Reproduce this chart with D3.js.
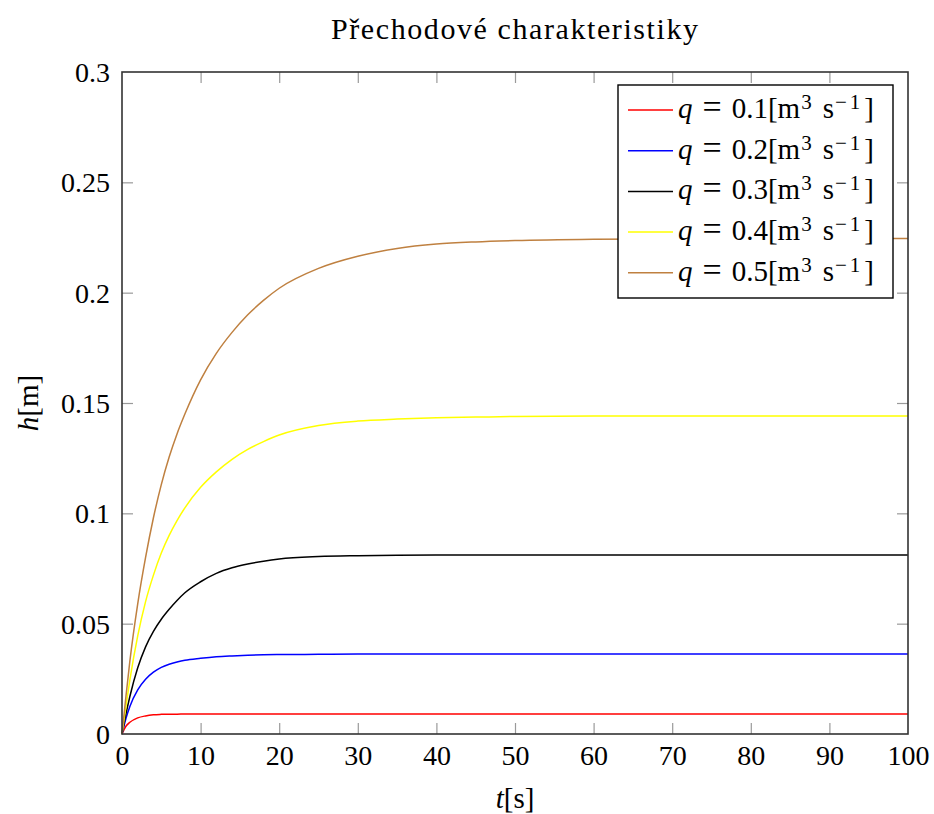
<!DOCTYPE html>
<html>
<head>
<meta charset="utf-8">
<script src="https://cdn.jsdelivr.net/npm/d3@7"></script>
<style>
  html, body { margin: 0; padding: 0; background: #fff; }
  svg { display: block; }
  text { font-family: "Liberation Serif", "DejaVu Serif", serif; fill: #000; }
</style>
</head>
<body>
<svg id="chart" width="934" height="814"></svg>
<script>
// Sample times [s]
const time = [0, 0.5, 1, 2, 3, 4, 5, 6, 7, 8, 10, 12, 14, 16, 18, 20, 25, 30, 35, 40, 45, 50, 60, 70, 80, 90, 100];

// Water level h [m] for each inflow step q
const h01 = [0, 0.0035, 0.0053, 0.0073, 0.0082, 0.0087, 0.0089, 0.0090, 0.0090, 0.0091, 0.0091, 0.0091, 0.0091, 0.0091, 0.0091, 0.0091, 0.0091, 0.0091, 0.0091, 0.0091, 0.0091, 0.0091, 0.0091, 0.0091, 0.0091, 0.0091, 0.0091];
const h02 = [0, 0.0070, 0.0125, 0.0200, 0.0248, 0.0280, 0.0302, 0.0316, 0.0326, 0.0334, 0.0343, 0.0350, 0.0354, 0.0357, 0.0359, 0.0360, 0.0361, 0.0362, 0.0362, 0.0362, 0.0362, 0.0362, 0.0362, 0.0362, 0.0362, 0.0362, 0.0362];
const h03 = [0, 0.0090, 0.0170, 0.0300, 0.0395, 0.0465, 0.0520, 0.0565, 0.0605, 0.0640, 0.0690, 0.0728, 0.0753, 0.0770, 0.0783, 0.0793, 0.0804, 0.0808, 0.0810, 0.0811, 0.0811, 0.0811, 0.0811, 0.0811, 0.0811, 0.0811, 0.0811];
const h04 = [0, 0.0125, 0.0245, 0.0445, 0.0600, 0.0720, 0.0820, 0.0900, 0.0967, 0.1025, 0.1118, 0.1188, 0.1245, 0.1290, 0.1325, 0.1355, 0.1398, 0.1418, 0.1427, 0.1433, 0.1436, 0.1439, 0.1441, 0.1441, 0.1441, 0.1441, 0.1441];
const h05 = [0, 0.0170, 0.0330, 0.0590, 0.0800, 0.0980, 0.1130, 0.1255, 0.1360, 0.1450, 0.1605, 0.1725, 0.1820, 0.1900, 0.1965, 0.2020, 0.2110, 0.2165, 0.2200, 0.2220, 0.2230, 0.2236, 0.2242, 0.2244, 0.2245, 0.2245, 0.2245];

const seriesLabels = ["0.1", "0.2", "0.3", "0.4", "0.5"];
const seriesColors = ["#ff0000", "#0000ff", "#000000", "#ffff00", "#bf8040"];
const seriesValues = [h01, h02, h03, h04, h05];

const xTicks = [0, 10, 20, 30, 40, 50, 60, 70, 80, 90, 100];
const yTicks = [0, 0.05, 0.1, 0.15, 0.2, 0.25, 0.3];
const yTickLabels = ["0", "0.05", "0.1", "0.15", "0.2", "0.25", "0.3"];

const titleText = "Přechodové charakteristiky";

// Layout
const plot = { left: 122, right: 908, top: 72, bottom: 734 };
const FONT = '"Liberation Serif", "DejaVu Serif", serif';

const svg = d3.select("#chart");

const x = d3.scaleLinear().domain([0, 100]).range([plot.left, plot.right]);
const y = d3.scaleLinear().domain([0, 0.3]).range([plot.bottom, plot.top]);

const tickLen = 11;

// Inward ticks on all four sides
const gBottom = svg.append("g").attr("transform", `translate(0,${plot.bottom})`)
  .call(d3.axisBottom(x).tickValues(xTicks).tickSize(-tickLen).tickFormat(d3.format("d")));
const gTop = svg.append("g").attr("transform", `translate(0,${plot.top})`)
  .call(d3.axisTop(x).tickValues(xTicks).tickSize(-tickLen).tickFormat(""));
const gLeft = svg.append("g").attr("transform", `translate(${plot.left},0)`)
  .call(d3.axisLeft(y).tickValues(yTicks).tickSize(-tickLen).tickFormat((d, i) => yTickLabels[i]));
const gRight = svg.append("g").attr("transform", `translate(${plot.right},0)`)
  .call(d3.axisRight(y).tickValues(yTicks).tickSize(-tickLen).tickFormat(""));

[gBottom, gTop, gLeft, gRight].forEach(g => {
  g.select(".domain").remove();
  g.selectAll("line").attr("stroke", "#9a9a9a").attr("stroke-width", 1.2);
  g.selectAll("text")
    .style("font-family", FONT)
    .style("font-size", "28px")
    .attr("fill", "#000");
});
// Ticks at the frame corners are covered by the frame itself
gBottom.selectAll(".tick line").filter(d => d === 0 || d === 100).remove();
gTop.selectAll(".tick line").filter(d => d === 0 || d === 100).remove();
gLeft.selectAll(".tick line").filter(d => d === 0 || d === 0.3).remove();
gRight.selectAll(".tick line").filter(d => d === 0 || d === 0.3).remove();
gBottom.selectAll("text").attr("y", 11).attr("dy", "0.71em");
gLeft.selectAll("text").attr("x", -12).attr("dy", "0.34em");

// Curves
const line = d3.line()
  .x((d, i) => x(time[i]))
  .y(d => y(d))
  .curve(d3.curveMonotoneX);

const curves = svg.append("g");
seriesValues.forEach((vals, k) => {
  curves.append("path")
    .attr("d", line(vals))
    .attr("fill", "none")
    .attr("stroke", seriesColors[k])
    .attr("stroke-width", 1.5);
});

// Frame
svg.append("rect")
  .attr("x", plot.left).attr("y", plot.top)
  .attr("width", plot.right - plot.left).attr("height", plot.bottom - plot.top)
  .attr("fill", "none").attr("stroke", "#333").attr("stroke-width", 1.6);

// Title
svg.append("text")
  .attr("x", 331).attr("y", 39)
  .attr("textLength", 367).attr("lengthAdjust", "spacing")
  .style("font-size", "30px")
  .text(titleText);

// Axis labels
const xl = svg.append("text")
  .attr("x", (plot.left + plot.right) / 2).attr("y", 808)
  .attr("text-anchor", "middle")
  .style("font-size", "29px");
xl.append("tspan").style("font-style", "italic").text("t");
xl.append("tspan").text("[s]");

const yl = svg.append("text")
  .attr("transform", "translate(38,403) rotate(-90)")
  .attr("text-anchor", "middle")
  .style("font-size", "29px");
yl.append("tspan").style("font-style", "italic").text("h");
yl.append("tspan").text("[m]");

// Legend
const legend = { x: 618, y: 85, w: 275, h: 213, row: 40.7, first: 110 };
svg.append("rect")
  .attr("x", legend.x).attr("y", legend.y)
  .attr("width", legend.w).attr("height", legend.h)
  .attr("fill", "#fff").attr("stroke", "#000").attr("stroke-width", 1.4);

seriesLabels.forEach((lab, k) => {
  const cy = legend.first + k * legend.row;
  svg.append("line")
    .attr("x1", 628).attr("x2", 673).attr("y1", cy).attr("y2", cy)
    .attr("stroke", seriesColors[k]).attr("stroke-width", 1.5);
  const t = svg.append("text")
    .attr("x", 678).attr("y", cy + 8)
    .style("font-size", "29px");
  t.append("tspan").style("font-style", "italic").text("q");
  t.append("tspan").attr("dx", 10).style("font-size", "34px").text("=");
  t.append("tspan").attr("dx", 10).text(lab + "[m");
  t.append("tspan").attr("dy", -9).attr("dx", 1).style("font-size", "21px").text("3");
  t.append("tspan").attr("dy", 9).attr("dx", 11).text("s");
  t.append("tspan").attr("dy", -9).attr("dx", 1).style("font-size", "21px").text("−");
  t.append("tspan").attr("dx", 3).style("font-size", "21px").text("1");
  t.append("tspan").attr("dy", 9).attr("dx", 4).text("]");
});
</script>
</body>
</html>
